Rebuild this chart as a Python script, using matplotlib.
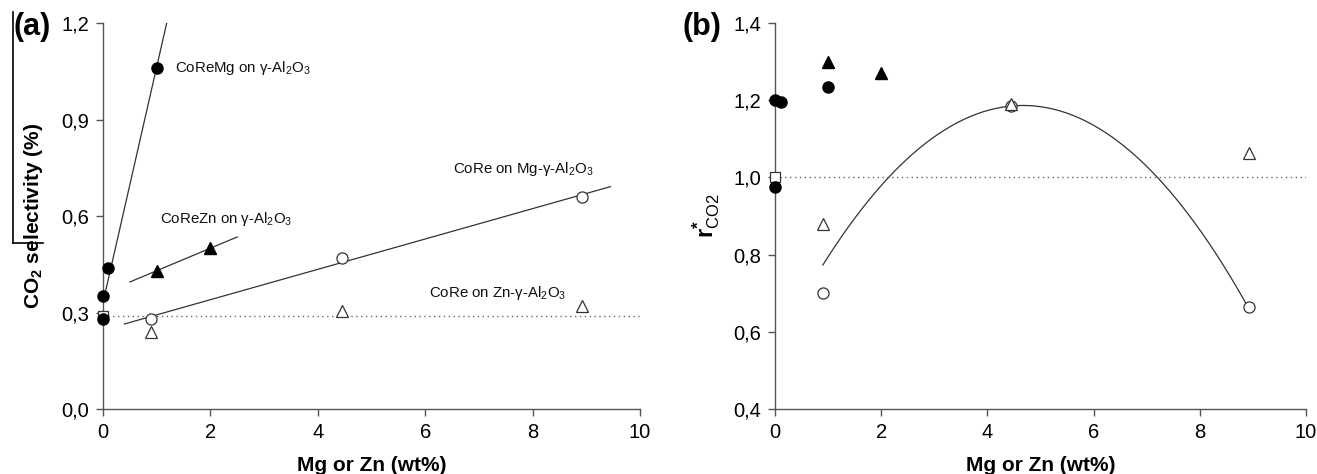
import numpy as np
import matplotlib
matplotlib.use("Agg")
import matplotlib.pyplot as plt
from matplotlib.lines import Line2D

plt.rcParams['font.family'] = ['Liberation Sans', 'DejaVu Sans']
plt.rcParams['mathtext.fontset'] = 'custom'
plt.rcParams['mathtext.rm'] = 'Liberation Sans'
plt.rcParams['mathtext.it'] = 'Liberation Sans:italic'
plt.rcParams['mathtext.bf'] = 'Liberation Sans:bold'

AXIS_COLOR = "#555555"

# ---- panel (a): CO2 selectivity ----
a_mg_x = [0, 0, 0.1, 1.0]           # CoReMg on g-Al2O3 (filled circles)
a_mg_y = [0.35, 0.28, 0.44, 1.06]
a_zn_x = [1.0, 2.0]                 # CoReZn on g-Al2O3 (filled triangles)
a_zn_y = [0.43, 0.50]
a_coremg_x = [0.9, 4.45, 8.92]      # CoRe on Mg-g-Al2O3 (open circles)
a_coremg_y = [0.28, 0.47, 0.66]
a_corezn_x = [0.9, 4.45, 8.92]      # CoRe on Zn-g-Al2O3 (open triangles)
a_corezn_y = [0.24, 0.305, 0.32]
a_ref_x = [0]                       # CoRe on g-Al2O3 (open square)
a_ref_y = [0.29]
a_yticks = [0.0, 0.3, 0.6, 0.9, 1.2]
a_ylabels = ["0,0", "0,3", "0,6", "0,9", "1,2"]

# ---- panel (b): r*CO2 ----
b_mg_x = [0, 0.11, 1.0, 0]
b_mg_y = [1.20, 1.195, 1.234, 0.974]
b_zn_x = [1.0, 2.0]
b_zn_y = [1.30, 1.27]
b_coremg_x = [0.9, 4.45, 8.93]
b_coremg_y = [0.70, 1.185, 0.665]
b_corezn_x = [0.9, 4.45, 8.93]
b_corezn_y = [0.88, 1.19, 1.063]
b_ref_x = [0]
b_ref_y = [1.0]
# points in panel (b)
b_curve_x = [0.9, 2.13, 4.66, 7.19, 8.93]
b_curve_y = [0.772, 1.0, 1.187, 1.0, 0.66]
b_yticks = [0.4, 0.6, 0.8, 1.0, 1.2, 1.4]
b_ylabels = ["0,4", "0,6", "0,8", "1,0", "1,2", "1,4"]

xticks = [0, 2, 4, 6, 8, 10]
xlabels = ["0", "2", "4", "6", "8", "10"]


def style_axis(ax, yticks, ylabels):
    for s in ["top", "right"]:
        ax.spines[s].set_visible(False)
    for s in ["left", "bottom"]:
        ax.spines[s].set_color(AXIS_COLOR)
        ax.spines[s].set_linewidth(1.0)
    ax.set_xlim(0, 10)
    ax.set_ylim(yticks[0], yticks[-1])
    ax.set_xticks(xticks)
    ax.set_xticklabels(xlabels)
    ax.set_yticks(yticks)
    ax.set_yticklabels(ylabels)
    ax.tick_params(direction="out", length=5, width=1.0, color=AXIS_COLOR,
                   labelsize=14.5, pad=5)
    ax.set_xlabel("Mg or Zn (wt%)", fontsize=15, fontweight="bold", labelpad=10)


def markers(ax, mg, zn, cmg, czn, ref):
    kw = dict(linestyle="none", clip_on=False, zorder=5)
    ax.plot(*mg, marker="o", ms=8, color="black", **kw)
    ax.plot(*zn, marker="^", ms=8, color="black", **kw)
    ax.plot(*cmg, marker="o", ms=8, mfc="white", mec="#333333", mew=0.9, **kw)
    ax.plot(*czn, marker="^", ms=8, mfc="white", mec="#333333", mew=0.9, **kw)
    ax.plot(*ref, marker="s", ms=6.5, mfc="white", mec="#333333", mew=0.9,
            linestyle="none", clip_on=False, zorder=4)


fig = plt.figure(figsize=(13.17, 4.74), dpi=100)
ax1 = fig.add_axes([0.0782, 0.137, 0.4078, 0.8145])
ax2 = fig.add_axes([0.5885, 0.137, 0.4031, 0.8145])

# panel (a)
style_axis(ax1, a_yticks, a_ylabels)
ax1.axhline(a_ref_y[0], color="#666666", lw=1.0, ls=(0, (1, 2.5)))

p = np.polyfit(a_mg_x, a_mg_y, 1)
xs = np.array([0, (1.2 - p[1]) / p[0]])
ax1.plot(xs, np.polyval(p, xs), color="#333333", lw=0.9)

p = np.polyfit(a_zn_x, a_zn_y, 1)
xs = np.array([0.5, 2.5])
ax1.plot(xs, np.polyval(p, xs), color="#333333", lw=0.9)

p = np.polyfit(a_coremg_x, a_coremg_y, 1)
xs = np.array([0.4, 9.45])
ax1.plot(xs, np.polyval(p, xs), color="#333333", lw=0.9)

markers(ax1, (a_mg_x, a_mg_y), (a_zn_x, a_zn_y), (a_coremg_x, a_coremg_y),
        (a_corezn_x, a_corezn_y), (a_ref_x, a_ref_y))

lab = dict(fontsize=10.8, va="center", ha="left", color="#111111")
ax1.text(1.34, 1.06, r"CoReMg on γ-Al$_2$O$_3$", **lab)
ax1.text(1.06, 0.59, r"CoReZn on γ-Al$_2$O$_3$", **lab)
ax1.text(6.52, 0.745, r"CoRe on Mg-γ-Al$_2$O$_3$", **lab)
ax1.text(6.07, 0.36, r"CoRe on Zn-γ-Al$_2$O$_3$", **lab)
ax1.set_ylabel(r"CO$_\mathbf{2}$ selectivity (%)", fontsize=15,
               fontweight="bold", labelpad=12)

# panel (b)
style_axis(ax2, b_yticks, b_ylabels)
ax2.axhline(b_ref_y[0], color="#666666", lw=1.0, ls=(0, (1, 2.5)))
p = np.polyfit(b_curve_x, b_curve_y, 2)
xs = np.linspace(b_curve_x[0], b_curve_x[-1], 200)
ax2.plot(xs, np.polyval(p, xs), color="#333333", lw=0.9)
markers(ax2, (b_mg_x, b_mg_y), (b_zn_x, b_zn_y), (b_coremg_x, b_coremg_y),
        (b_corezn_x, b_corezn_y), (b_ref_x, b_ref_y))
ax2.set_ylabel(r"$\mathbf{r}^{\mathbf{*}}_{\mathrm{CO2}}$", fontsize=17, labelpad=8)

# panel letters
fig.text(0.010, 0.943, "(a)", fontsize=22, fontweight="bold", va="center")
fig.text(0.518, 0.943, "(b)", fontsize=22, fontweight="bold", va="center")

# leftover crop marks at the left edge of the original figure
fig.add_artist(Line2D([13 / 1317, 13 / 1317], [1 - 12 / 474, 1 - 243 / 474],
                      color="black", lw=1.2, transform=fig.transFigure))
fig.add_artist(Line2D([13 / 1317, 43 / 1317], [1 - 243 / 474, 1 - 243 / 474],
                      color="black", lw=1.2, transform=fig.transFigure))

fig.savefig("out.png", dpi=100)
